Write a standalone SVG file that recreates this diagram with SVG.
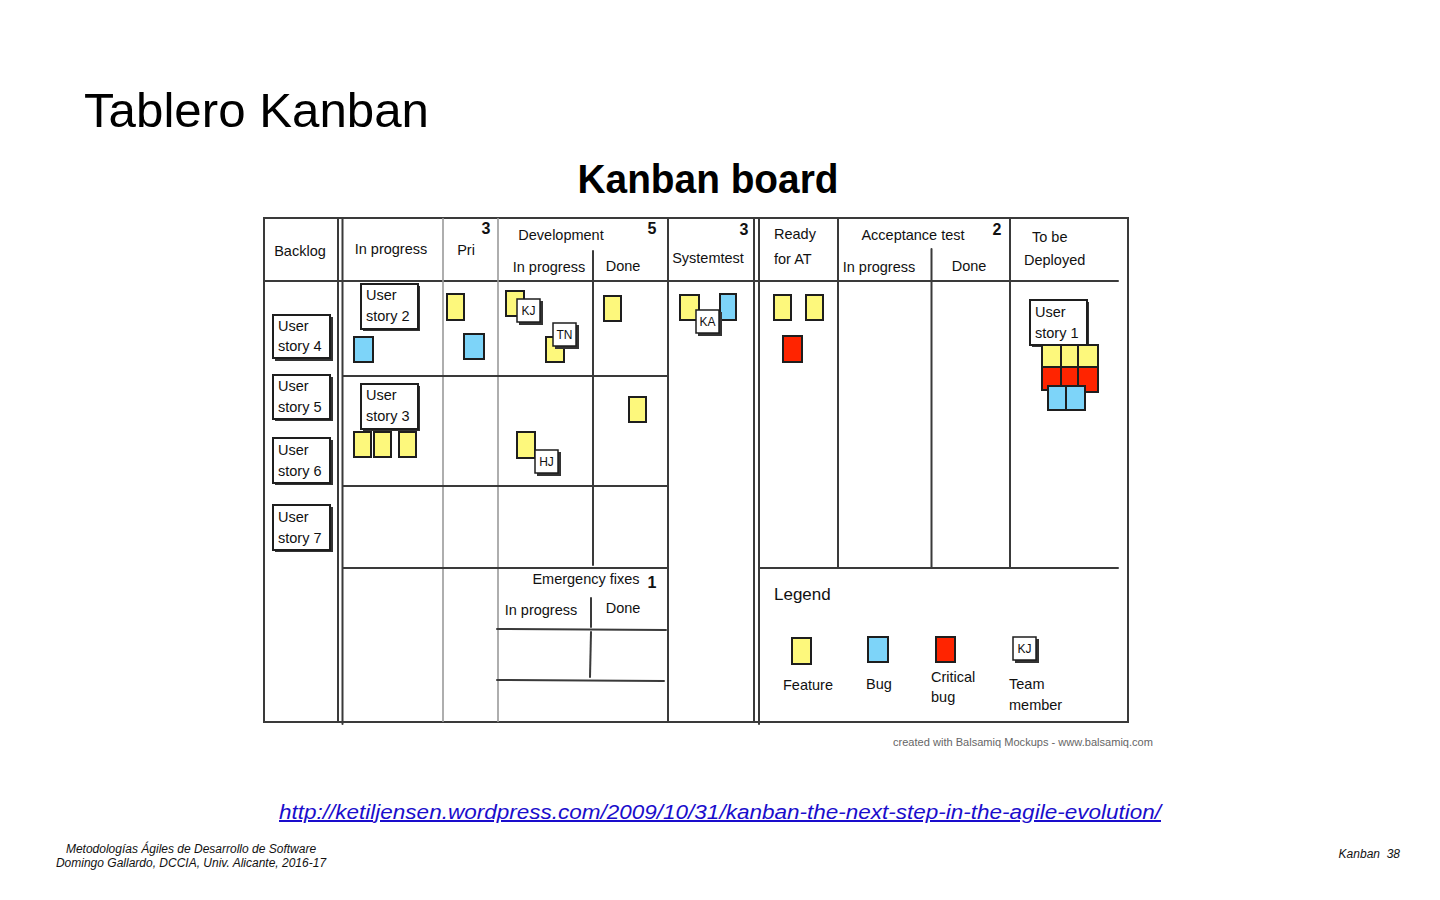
<svg xmlns="http://www.w3.org/2000/svg" width="1440" height="900" viewBox="0 0 1440 900">
<style>
.bg{fill:#fff}
.ln{stroke:#3a3a3a;stroke-width:2;fill:none;stroke-linecap:round}
.lg{stroke:#9a9a9a;stroke-width:1.6;fill:none}
.t{font-family:"Liberation Sans",Arial,sans-serif;font-size:14.5px;fill:#111}
.n{font-family:"Liberation Sans",Arial,sans-serif;font-size:16px;font-weight:bold;fill:#111}
.y{fill:#fdf87c;stroke:#1e1e1e;stroke-width:2}
.b{fill:#7dd4f9;stroke:#1e1e1e;stroke-width:2}
.r{fill:#ff2400;stroke:#1e1e1e;stroke-width:2}
.st{fill:#fff;stroke:#1e1e1e;stroke-width:2}
.sh{fill:#333}
.tg{fill:#fff;stroke:#1e1e1e;stroke-width:1.5}
.tt{font-family:"Liberation Sans",Arial,sans-serif;font-size:12px;fill:#111;text-anchor:middle}
</style>
<rect class="bg" x="0" y="0" width="1440" height="900"/>
<text x="84" y="127" font-family="Liberation Sans,Arial,sans-serif" font-size="49" fill="#000" textLength="345" lengthAdjust="spacingAndGlyphs">Tablero Kanban</text>
<text x="708" y="193" font-family="Liberation Sans,Arial,sans-serif" font-size="40" font-weight="bold" fill="#000" text-anchor="middle" textLength="261" lengthAdjust="spacingAndGlyphs">Kanban board</text>

<g id="board-lines">
<rect class="ln" x="264" y="218" width="864" height="504"/>
<line class="ln" x1="264" y1="281" x2="1118" y2="281"/>
<line class="ln" x1="338" y1="218" x2="338" y2="722"/>
<line class="ln" x1="342.5" y1="218" x2="342.5" y2="724"/>
<line class="lg" x1="443" y1="218" x2="443" y2="722"/>
<line class="lg" x1="498" y1="218" x2="498" y2="722"/>
<line class="ln" x1="593" y1="251" x2="593" y2="281"/>
<line class="ln" x1="593" y1="281" x2="593" y2="565"/>
<line class="ln" x1="668" y1="218" x2="668" y2="722"/>
<line class="ln" x1="754" y1="218" x2="754" y2="722"/>
<line class="ln" x1="759" y1="218" x2="759" y2="724"/>
<line class="ln" x1="838" y1="218" x2="838" y2="568"/>
<line class="ln" x1="931.5" y1="249" x2="931.5" y2="568"/>
<line class="ln" x1="1010" y1="218" x2="1010" y2="568"/>
<line class="ln" x1="343" y1="376" x2="668" y2="376"/>
<line class="ln" x1="343" y1="486" x2="668" y2="486"/>
<line class="ln" x1="343" y1="568" x2="668" y2="568"/>
<line class="ln" x1="759" y1="568" x2="1118" y2="568"/>
<line class="ln" x1="497" y1="629" x2="666" y2="630"/>
<line class="ln" x1="497" y1="680" x2="664" y2="681"/>
<line class="ln" x1="591" y1="598" x2="591" y2="627"/>
<line class="ln" x1="591" y1="632" x2="590" y2="677"/>
</g>

<g id="headers">
<text class="t" x="300" y="256" text-anchor="middle">Backlog</text>
<text class="t" x="391" y="254" text-anchor="middle">In progress</text>
<text class="t" x="466" y="255" text-anchor="middle">Pri</text>
<text class="n" x="486" y="234" text-anchor="middle">3</text>
<text class="t" x="561" y="240" text-anchor="middle">Development</text>
<text class="n" x="652" y="234" text-anchor="middle">5</text>
<text class="t" x="549" y="272" text-anchor="middle">In progress</text>
<text class="t" x="623" y="271" text-anchor="middle">Done</text>
<text class="n" x="744" y="235" text-anchor="middle">3</text>
<text class="t" x="708" y="263" text-anchor="middle">Systemtest</text>
<text class="t" x="774" y="239">Ready</text>
<text class="t" x="774" y="264">for AT</text>
<text class="t" x="913" y="240" text-anchor="middle">Acceptance test</text>
<text class="n" x="997" y="235" text-anchor="middle">2</text>
<text class="t" x="879" y="272" text-anchor="middle">In progress</text>
<text class="t" x="969" y="271" text-anchor="middle">Done</text>
<text class="t" x="1032" y="242">To be</text>
<text class="t" x="1024" y="265">Deployed</text>
<text class="t" x="586" y="584" text-anchor="middle">Emergency fixes</text>
<text class="n" x="652" y="588" text-anchor="middle">1</text>
<text class="t" x="541" y="615" text-anchor="middle">In progress</text>
<text class="t" x="623" y="613" text-anchor="middle">Done</text>
</g>

<g id="story4"><rect class="sh" x="275" y="317" width="58" height="44"/><rect class="st" x="273" y="315" width="57" height="43"/><text class="t" x="278" y="331">User</text><text class="t" x="278" y="351">story 4</text></g>
<g id="story5"><rect class="sh" x="275" y="377" width="58" height="44"/><rect class="st" x="273" y="375" width="57" height="44"/><text class="t" x="278" y="391">User</text><text class="t" x="278" y="412">story 5</text></g>
<g id="story6"><rect class="sh" x="275" y="440" width="58" height="45"/><rect class="st" x="273" y="438" width="57" height="45"/><text class="t" x="278" y="455">User</text><text class="t" x="278" y="476">story 6</text></g>
<g id="story7"><rect class="sh" x="275" y="507" width="58" height="45"/><rect class="st" x="273" y="505" width="57" height="45"/><text class="t" x="278" y="522">User</text><text class="t" x="278" y="543">story 7</text></g>

<g id="story2"><rect class="sh" x="363" y="286" width="57" height="45"/><rect class="st" x="361" y="284" width="57" height="45"/><text class="t" x="366" y="300">User</text><text class="t" x="366" y="321">story 2</text></g>
<g id="bug-ip"><rect class="b" x="354" y="337" width="19" height="25"/></g>
<g id="story3"><rect class="sh" x="363" y="386" width="57" height="45"/><rect class="st" x="361" y="384" width="57" height="45"/><text class="t" x="366" y="400">User</text><text class="t" x="366" y="421">story 3</text></g>
<g id="feat-ip"><rect class="y" x="354" y="432" width="17" height="25"/><rect class="y" x="374" y="432" width="17" height="25"/><rect class="y" x="399" y="432" width="17" height="25"/></g>

<g id="pri-cards"><rect class="y" x="447" y="294" width="17" height="26"/><rect class="b" x="464" y="334" width="20" height="25"/></g>

<g id="dev-ip-1">
<rect class="y" x="506" y="291" width="18" height="25"/>
<rect class="sh" x="519" y="301" width="24" height="24"/><rect class="tg" x="517" y="299" width="23" height="23"/><text class="tt" x="528.5" y="315">KJ</text>
<rect class="y" x="546" y="337" width="18" height="25"/>
<rect class="sh" x="555" y="325" width="24" height="24"/><rect class="tg" x="553" y="323" width="23" height="23"/><text class="tt" x="564.5" y="339">TN</text>
</g>
<g id="dev-ip-2">
<rect class="y" x="517" y="432" width="18" height="26"/>
<rect class="sh" x="537" y="452" width="24" height="24"/><rect class="tg" x="535" y="450" width="23" height="23"/><text class="tt" x="546.5" y="466">HJ</text>
</g>
<g id="dev-done"><rect class="y" x="604" y="296" width="17" height="25"/><rect class="y" x="629" y="397" width="17" height="25"/></g>

<g id="systemtest">
<rect class="y" x="680" y="295" width="19" height="25"/>
<rect class="b" x="720" y="294" width="16" height="26"/>
<rect class="sh" x="698" y="312" width="24" height="24"/><rect class="tg" x="696" y="310" width="23" height="23"/><text class="tt" x="707.5" y="326">KA</text>
</g>

<g id="ready-at"><rect class="y" x="774" y="295" width="17" height="25"/><rect class="y" x="806" y="295" width="17" height="25"/><rect class="r" x="783" y="336" width="19" height="26"/></g>

<g id="story1">
<rect class="sh" x="1032" y="302" width="57" height="45"/><rect class="st" x="1030" y="300" width="57" height="45"/><text class="t" x="1035" y="317">User</text><text class="t" x="1035" y="338">story 1</text>
<rect class="y" x="1042" y="345" width="19" height="22"/><rect class="y" x="1061" y="345" width="17" height="22"/><rect class="y" x="1078" y="345" width="20" height="22"/>
<rect class="r" x="1042" y="367" width="19" height="23"/><rect class="r" x="1061" y="367" width="17" height="23"/><rect class="r" x="1078" y="367" width="20" height="25"/>
<rect class="b" x="1048" y="386" width="18" height="24"/><rect class="b" x="1066" y="386" width="19" height="24"/>
</g>

<g id="legend">
<text x="774" y="600" font-family="Liberation Sans,Arial,sans-serif" font-size="17" fill="#111">Legend</text>
<rect class="y" x="792" y="638" width="19" height="26"/>
<text class="t" x="808" y="690" text-anchor="middle">Feature</text>
<rect class="b" x="868" y="637" width="20" height="25"/>
<text class="t" x="879" y="689" text-anchor="middle">Bug</text>
<rect class="r" x="936" y="637" width="19" height="25"/>
<text class="t" x="931" y="682">Critical</text>
<text class="t" x="931" y="702">bug</text>
<rect class="sh" x="1015" y="639" width="24" height="24"/><rect class="tg" x="1013" y="637" width="23" height="23"/><text class="tt" x="1024.5" y="653">KJ</text>
<text class="t" x="1009" y="689">Team</text>
<text class="t" x="1009" y="710">member</text>
</g>

<text x="1023" y="746" font-family="Liberation Sans,Arial,sans-serif" font-size="10" fill="#666" text-anchor="middle" textLength="260" lengthAdjust="spacingAndGlyphs">created with Balsamiq Mockups - www.balsamiq.com</text>

<text x="720" y="819" font-family="Liberation Sans,Arial,sans-serif" font-size="20" font-style="italic" fill="#1a0dcc" text-anchor="middle" text-decoration="underline" textLength="882" lengthAdjust="spacingAndGlyphs">http://ketiljensen.wordpress.com/2009/10/31/kanban-the-next-step-in-the-agile-evolution/</text>

<text font-family="Liberation Sans,Arial,sans-serif" font-size="12" font-style="italic" fill="#111" text-anchor="middle"><tspan x="191" y="853">Metodologías Ágiles de Desarrollo de Software</tspan><tspan x="191" y="867">Domingo Gallardo, DCCIA, Univ. Alicante, 2016-17</tspan></text>
<text x="1400" y="858" font-family="Liberation Sans,Arial,sans-serif" font-size="12" font-style="italic" fill="#111" text-anchor="end">Kanban&#160; 38</text>
</svg>
